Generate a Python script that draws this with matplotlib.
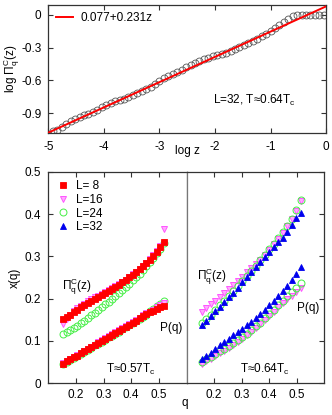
import matplotlib
matplotlib.use("Agg")
import matplotlib.pyplot as plt
from matplotlib.ticker import FormatStrFormatter

plt.rcParams['font.family'] = ['Liberation Sans', 'DejaVu Sans']
plt.rcParams['axes.unicode_minus'] = False
plt.rcParams['mathtext.fontset'] = 'custom'
plt.rcParams['mathtext.rm'] = 'Liberation Sans'

# top panel: log Pi_q^C(z) vs log z, L=32, T=0.64Tc
log_z = [-5.00, -4.92, -4.84, -4.76, -4.68, -4.60, -4.52, -4.44, -4.36, -4.28,
         -4.20, -4.12, -4.04, -3.96, -3.88, -3.80, -3.72, -3.64, -3.56, -3.48,
         -3.40, -3.32, -3.24, -3.16, -3.08, -3.00, -2.92, -2.84, -2.76, -2.68,
         -2.60, -2.52, -2.44, -2.36, -2.28, -2.20, -2.12, -2.04, -1.96, -1.88,
         -1.80, -1.72, -1.64, -1.56, -1.48, -1.40, -1.32, -1.24, -1.16, -1.08,
         -1.00, -0.92, -0.84, -0.76, -0.68, -0.60, -0.52, -0.44, -0.36, -0.28,
         -0.20, -0.12, -0.04]
log_pi = [-1.088, -1.068, -1.050, -1.030, -0.995, -0.974, -0.955, -0.937, -0.920, -0.905,
          -0.888, -0.868, -0.846, -0.826, -0.806, -0.790, -0.780, -0.770, -0.753, -0.735,
          -0.716, -0.698, -0.678, -0.660, -0.634, -0.606, -0.582, -0.560, -0.540, -0.520,
          -0.501, -0.482, -0.463, -0.445, -0.427, -0.409, -0.392, -0.378, -0.368, -0.357,
          -0.345, -0.330, -0.314, -0.296, -0.278, -0.259, -0.240, -0.220, -0.197, -0.175,
          -0.152, -0.125, -0.095, -0.062, -0.035, -0.012, 0.0, 0.0, 0.0, 0.0,
          0.0, 0.0, 0.0]
fit_a = 0.077
fit_b = 0.231
fit_z = [-5.0, 0.0]

# bottom left: T=0.57Tc
q_left = [0.155, 0.168, 0.180, 0.193, 0.205, 0.218, 0.230, 0.243, 0.255, 0.268,
          0.280, 0.293, 0.305, 0.318, 0.330, 0.343, 0.355, 0.368, 0.380, 0.393,
          0.405, 0.418, 0.430, 0.443, 0.455, 0.468, 0.480, 0.493, 0.505, 0.518]
pi_L8_a = [0.151, 0.156, 0.162, 0.168, 0.173, 0.179, 0.184, 0.190, 0.195, 0.200,
           0.204, 0.209, 0.214, 0.219, 0.223, 0.228, 0.233, 0.239, 0.244, 0.250,
           0.256, 0.263, 0.270, 0.277, 0.284, 0.292, 0.301, 0.311, 0.322, 0.335]
pi_L16_a = [0.140, 0.152, 0.160, 0.170, 0.177, 0.183, 0.188, 0.194, 0.198, 0.203,
            0.206, 0.210, 0.215, 0.220, 0.224, 0.229, 0.234, 0.240, 0.245, 0.251,
            0.257, 0.264, 0.271, 0.278, 0.285, 0.293, 0.302, 0.313, 0.325, 0.365]
pi_L24_a = [0.115, 0.120, 0.125, 0.130, 0.136, 0.142, 0.148, 0.154, 0.160, 0.166,
            0.172, 0.179, 0.186, 0.193, 0.200, 0.207, 0.214, 0.221, 0.228, 0.235,
            0.243, 0.251, 0.259, 0.267, 0.276, 0.286, 0.296, 0.307, 0.318, 0.331]
p_L8_a = [0.046, 0.051, 0.056, 0.061, 0.065, 0.070, 0.075, 0.080, 0.085, 0.090,
          0.094, 0.099, 0.104, 0.109, 0.113, 0.118, 0.123, 0.128, 0.133, 0.138,
          0.143, 0.148, 0.153, 0.158, 0.163, 0.167, 0.171, 0.175, 0.179, 0.183]
p_L16_a = [0.047, 0.052, 0.057, 0.062, 0.066, 0.071, 0.076, 0.081, 0.086, 0.091,
           0.096, 0.101, 0.106, 0.111, 0.115, 0.120, 0.125, 0.130, 0.135, 0.140,
           0.145, 0.150, 0.155, 0.160, 0.165, 0.169, 0.174, 0.179, 0.184, 0.189]
p_L24_a = [0.045, 0.050, 0.055, 0.060, 0.064, 0.069, 0.074, 0.079, 0.084, 0.089,
           0.093, 0.098, 0.103, 0.108, 0.112, 0.117, 0.122, 0.127, 0.132, 0.137,
           0.142, 0.147, 0.152, 0.157, 0.162, 0.170, 0.176, 0.182, 0.188, 0.195]

# bottom right: T=0.64Tc
q_right = [0.155, 0.171, 0.188, 0.204, 0.221, 0.237, 0.253, 0.270, 0.286, 0.303,
           0.319, 0.335, 0.352, 0.368, 0.385, 0.401, 0.417, 0.434, 0.450, 0.467,
           0.483, 0.499, 0.516]
pi_L16_b = [0.168, 0.177, 0.186, 0.195, 0.204, 0.213, 0.222, 0.232, 0.242, 0.252,
            0.262, 0.272, 0.282, 0.292, 0.304, 0.316, 0.329, 0.342, 0.356, 0.371,
            0.388, 0.408, 0.430]
pi_L24_b = [0.142, 0.152, 0.162, 0.173, 0.184, 0.195, 0.206, 0.217, 0.229, 0.241,
            0.253, 0.265, 0.278, 0.291, 0.304, 0.317, 0.330, 0.343, 0.357, 0.372,
            0.389, 0.410, 0.434]
pi_L32_b = [0.137, 0.148, 0.159, 0.170, 0.181, 0.192, 0.203, 0.214, 0.226, 0.238,
            0.250, 0.262, 0.274, 0.286, 0.298, 0.310, 0.323, 0.334, 0.343, 0.358,
            0.375, 0.390, 0.402]
p_L16_b = [0.046, 0.052, 0.058, 0.064, 0.071, 0.077, 0.084, 0.091, 0.098, 0.105,
           0.113, 0.121, 0.130, 0.139, 0.149, 0.159, 0.169, 0.179, 0.189, 0.198,
           0.207, 0.216, 0.226]
p_L24_b = [0.050, 0.056, 0.062, 0.068, 0.075, 0.081, 0.088, 0.095, 0.102, 0.109,
           0.117, 0.125, 0.134, 0.143, 0.153, 0.163, 0.173, 0.184, 0.195, 0.205,
           0.215, 0.225, 0.236]
p_L32_b = [0.056, 0.064, 0.072, 0.080, 0.089, 0.097, 0.105, 0.113, 0.121, 0.129,
           0.137, 0.145, 0.154, 0.164, 0.174, 0.184, 0.194, 0.205, 0.217, 0.230,
           0.244, 0.258, 0.274]

RED = '#ff0000'
MAG = '#ff55ff'
GRN = '#44ee44'
BLU = '#0000ee'
SPINE = '#333333'

sty = {
    8: dict(marker='s', ms=5, mfc=RED, mec=RED, mew=0.6, ls='none'),
    16: dict(marker='v', ms=5, mfc='#ffaaff', mec=MAG, mew=0.7, ls='none'),
    24: dict(marker='o', ms=5, mfc='none', mec=GRN, mew=0.7, ls='none'),
    32: dict(marker='^', ms=5, mfc=BLU, mec=BLU, mew=0.6, ls='none'),
}

fig = plt.figure(figsize=(3.32, 4.15), dpi=100)

def style_ax(ax):
    for s in ax.spines.values():
        s.set_color(SPINE)
        s.set_linewidth(0.9)
    ax.tick_params(direction='in', length=3.5, width=0.8, color=SPINE,
                   labelsize=8.5, top=True, right=True)

# top panel
ax0 = fig.add_axes([0.146, 0.680, 0.836, 0.308])
style_ax(ax0)
fit_y = [fit_a + fit_b * z for z in fit_z]
ax0.plot(fit_z, fit_y, color=RED, lw=1.4, label='0.077+0.231z', zorder=3)
ax0.plot(log_z, log_pi, marker='o', ms=5, mfc='none', mec='#555555',
         mew=0.6, ls='none', zorder=2)
ax0.set_xlim(-5, 0)
ax0.set_ylim(-1.08, 0.09)
ax0.set_xticks([-5, -4, -3, -2, -1, 0])
ax0.set_yticks([0, -0.3, -0.6, -0.9])
ax0.xaxis.set_major_formatter(FormatStrFormatter('%g'))
ax0.yaxis.set_major_formatter(FormatStrFormatter('%g'))
ax0.tick_params(axis='x', pad=6)
ax0.tick_params(axis='y', pad=5)
ax0.set_xlabel('log z', fontsize=8.5, labelpad=-6)
ax0.set_ylabel(r'log $\Pi_{\rm q}^{\rm C}$(z)', fontsize=8.5)
ax0.yaxis.set_label_coords(-0.095, 0.5)
ax0.legend(loc='upper left', frameon=False, fontsize=8.5, handlelength=1.5,
           handletextpad=0.6, borderaxespad=0.2)
ax0.text(-2.04, -0.78, 'L=32, T≈0.64T$_{\\rm c}$', fontsize=8.5, va='center')

# bottom panels
ax1 = fig.add_axes([0.145, 0.077, 0.417, 0.509])
ax2 = fig.add_axes([0.562, 0.077, 0.414, 0.509], sharey=ax1)
for ax in (ax1, ax2):
    style_ax(ax)
    ax.set_xlim(0.1, 0.6)
    ax.set_xticks([0.2, 0.3, 0.4, 0.5])
    ax.xaxis.set_major_formatter(FormatStrFormatter('%g'))
    ax.tick_params(axis='x', pad=4)
ax1.set_ylim(0, 0.5)
ax1.set_yticks([0, 0.1, 0.2, 0.3, 0.4, 0.5])
ax1.yaxis.set_major_formatter(FormatStrFormatter('%g'))
ax1.tick_params(axis='y', right=False, pad=5)
ax2.tick_params(axis='y', left=False, labelleft=False)
ax1.spines['right'].set_color('#777777')
ax2.spines['left'].set_color('#777777')
ax1.set_ylabel('x(q)', fontsize=8.5)
ax1.yaxis.set_label_coords(-0.2, 0.5)

# left: T=0.57Tc
ax1.plot(q_left, pi_L24_a, **sty[24])
ax1.plot(q_left, p_L24_a, **sty[24])
ax1.plot(q_left, pi_L16_a, **sty[16])
ax1.plot(q_left, p_L16_a, **sty[16])
ax1.plot(q_left, pi_L8_a, **sty[8])
ax1.plot(q_left, p_L8_a, **sty[8])

# right: T=0.64Tc
ax2.plot(q_right, pi_L16_b, **sty[16])
ax2.plot(q_right, p_L16_b, **sty[16])
ax2.plot(q_right, pi_L24_b, **sty[24])
ax2.plot(q_right, p_L24_b, **sty[24])
ax2.plot(q_right, pi_L32_b, **sty[32])
ax2.plot(q_right, p_L32_b, **sty[32])

handles = [plt.Line2D([], [], **sty[L]) for L in (8, 16, 24, 32)]
ax1.legend(handles, ['L= 8', 'L=16', 'L=24', 'L=32'], loc='upper left',
           frameon=False, fontsize=8.5, handlelength=1.2, handletextpad=0.5,
           labelspacing=0.15, borderaxespad=0.3)

ax1.text(0.151, 0.227, r'$\Pi_{\rm q}^{\rm C}$(z)', fontsize=8.5, va='center')
ax1.text(0.505, 0.13, 'P(q)', fontsize=8.5, va='center')
ax1.text(0.309, 0.031, 'T≈0.57T$_{\\rm c}$', fontsize=8.5, va='center')
ax2.text(0.137, 0.251, r'$\Pi_{\rm q}^{\rm C}$(z)', fontsize=8.5, va='center')
ax2.text(0.50, 0.178, 'P(q)', fontsize=8.5, va='center')
ax2.text(0.294, 0.031, 'T≈0.64T$_{\\rm c}$', fontsize=8.5, va='center')

fig.text(185 / 332, 1 - 403 / 415, 'q', fontsize=8.5, ha='center', va='center')

fig.savefig('out.png', dpi=100)
